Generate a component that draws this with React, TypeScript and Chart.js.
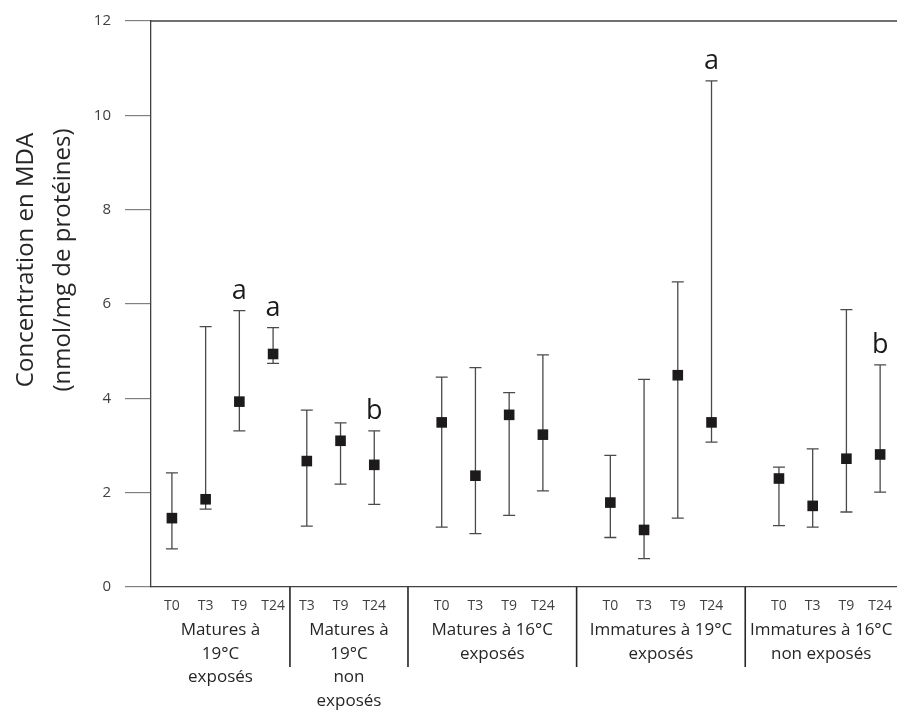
import React, { useEffect, useRef } from 'react';
import { Chart, registerables } from 'chart.js';

Chart.register(...registerables);

// 22 category slots (blank slots separate the groups)
const slotLabels = ['T0', 'T3', 'T9', 'T24', 'T3', 'T9', 'T24', '', 'T0', 'T3', 'T9', 'T24', '', 'T0', 'T3', 'T9', 'T24', '', 'T0', 'T3', 'T9', 'T24'];
const means = [1.46, 1.86, 3.93, 4.94, 2.67, 3.10, 2.59, null, 3.49, 2.36, 3.65, 3.23, null, 1.79, 1.21, 4.49, 3.49, null, 2.30, 1.72, 2.72, 2.81];
const upper = [2.42, 5.52, 5.86, 5.50, 3.75, 3.48, 3.31, null, 4.45, 4.65, 4.12, 4.92, null, 2.79, 4.40, 6.47, 10.73, null, 2.54, 2.93, 5.88, 4.71];
const lower = [0.81, 1.65, 3.31, 4.74, 1.29, 2.18, 1.75, null, 1.27, 1.13, 1.52, 2.04, null, 1.05, 0.60, 1.46, 3.07, null, 1.30, 1.27, 1.59, 2.01];
const letters = ['', '', 'a', 'a', '', '', 'b', '', '', '', '', '', '', '', '', '', 'a', '', '', '', '', 'b'];

const groupNames = [
  ['Matures à', '19°C', 'exposés'],
  ['Matures à', '19°C', 'non', 'exposés'],
  ['Matures à 16°C', 'exposés'],
  ['Immatures à 19°C', 'exposés'],
  ['Immatures à 16°C', 'non exposés'],
];
const groupStart = [0, 4, 8, 13, 18];
const groupEnd = [3, 6, 11, 16, 21];

const yMin = 0;
const yMax = 12;
const yStep = 2;
const yTitle = ['Concentration en MDA', '(nmol/mg de protéines)'];

const FONT = "'Open Sans', sans-serif";
const TEXT = '#262626';

const decorPlugin = {
  id: 'decor',
  beforeDatasetsDraw(chart: any) {
    const { ctx } = chart;
    const xs = chart.scales.x;
    const ys = chart.scales.y;
    ctx.save();
    ctx.strokeStyle = '#4a4a4a';
    ctx.lineWidth = 1.3;
    for (let i = 0; i < means.length; i++) {
      if (means[i] == null) continue;
      const x = xs.getPixelForValue(i);
      const yh = ys.getPixelForValue(upper[i] as number);
      const yl = ys.getPixelForValue(lower[i] as number);
      ctx.beginPath();
      ctx.moveTo(x, yh);
      ctx.lineTo(x, yl);
      ctx.moveTo(x - 6, yh);
      ctx.lineTo(x + 6, yh);
      ctx.moveTo(x - 6, yl);
      ctx.lineTo(x + 6, yl);
      ctx.stroke();
    }
    ctx.restore();
  },
  afterDraw(chart: any) {
    const { ctx, chartArea } = chart;
    const xs = chart.scales.x;
    const ys = chart.scales.y;
    ctx.save();
    // top border
    ctx.strokeStyle = '#404040';
    ctx.lineWidth = 1.3;
    ctx.beginPath();
    ctx.moveTo(chartArea.left, chartArea.top);
    ctx.lineTo(chartArea.right, chartArea.top);
    ctx.stroke();

    // group separators
    const seps: number[] = [];
    for (let g = 0; g < groupStart.length - 1; g++) {
      seps.push(xs.getPixelForValue((groupEnd[g] + groupStart[g + 1]) / 2));
    }
    ctx.strokeStyle = '#262626';
    ctx.lineWidth = 1.6;
    seps.forEach((sx) => {
      ctx.beginPath();
      ctx.moveTo(sx, chartArea.bottom);
      ctx.lineTo(sx, chartArea.bottom + 80);
      ctx.stroke();
    });

    // group labels
    ctx.fillStyle = TEXT;
    ctx.font = `17px ${FONT}`;
    ctx.textAlign = 'center';
    ctx.textBaseline = 'middle';
    groupNames.forEach((lines, g) => {
      const l = g === 0 ? chartArea.left : seps[g - 1];
      const r = g === groupNames.length - 1 ? chartArea.right : seps[g];
      const cx = (l + r) / 2;
      lines.forEach((t, k) => {
        ctx.fillText(t, cx, chartArea.bottom + 43 + k * 23.7);
      });
    });

    // significance letters
    ctx.fillStyle = '#1a1a1a';
    ctx.font = `27px ${FONT}`;
    ctx.textBaseline = 'alphabetic';
    letters.forEach((t, i) => {
      if (!t) return;
      ctx.fillText(t, xs.getPixelForValue(i), ys.getPixelForValue(upper[i] as number) - 12);
    });

    // y title
    ctx.fillStyle = TEXT;
    ctx.font = `24px ${FONT}`;
    ctx.textBaseline = 'middle';
    const cy = (chartArea.top + chartArea.bottom) / 2 - 44;
    yTitle.forEach((t, k) => {
      ctx.save();
      ctx.translate(chartArea.left - 125 + k * 37, cy);
      ctx.rotate(-Math.PI / 2);
      ctx.fillText(t, 0, 0);
      ctx.restore();
    });
    ctx.restore();
  },
};

export default function App() {
  const ref = useRef<HTMLCanvasElement>(null);
  useEffect(() => {
    if (!ref.current) return;
    const points = means
      .map((v, i) => (v == null ? null : { x: i, y: v }))
      .filter((p) => p !== null);
    const chart = new Chart(ref.current, {
      type: 'scatter',
      data: {
        datasets: [
          {
            data: points as any,
            pointStyle: 'rect',
            pointRadius: 7.5,
            pointHoverRadius: 7.5,
            backgroundColor: '#1c1a1a',
            borderColor: '#1c1a1a',
            borderWidth: 0,
            showLine: false,
          },
        ],
      },
      options: {
        responsive: false,
        animation: false,
        events: [],
        layout: { autoPadding: false, padding: { top: 21, left: 0, right: 0, bottom: 0 } },
        plugins: { legend: { display: false }, tooltip: { enabled: false }, title: { display: false } },
        scales: {
          x: {
            type: 'linear',
            min: -0.62,
            max: slotLabels.length - 0.5,
            afterBuildTicks: (scale: any) => {
              scale.ticks = slotLabels.map((_, i) => ({ value: i }));
            },
            afterFit: (scale: any) => {
              scale.height = 124;
              scale.paddingLeft = 0;
              scale.paddingRight = 0;
            },
            ticks: {
              autoSkip: false,
              maxRotation: 0,
              minRotation: 0,
              padding: 11,
              color: '#404040',
              font: { family: FONT, size: 14 },
              callback: (v: any) => slotLabels[Math.round(Number(v))] ?? '',
            },
            grid: { display: false, drawTicks: false },
            border: { display: true, color: '#404040', width: 1.3 },
          },
          y: {
            min: yMin,
            max: yMax,
            afterFit: (scale: any) => {
              scale.width = 151;
              scale.paddingTop = 0;
              scale.paddingBottom = 0;
            },
            ticks: {
              stepSize: yStep,
              padding: 14,
              color: '#404040',
              font: { family: FONT, size: 15 },
            },
            grid: { drawOnChartArea: false, tickLength: 26, color: '#808080', lineWidth: 1.2 },
            border: { display: true, color: '#404040', width: 1.3 },
          },
        },
      },
      plugins: [decorPlugin],
    });
    return () => chart.destroy();
  }, []);
  return (
    <div style={{ position: 'absolute', left: 0, top: 0, width: 897, height: 711, background: '#fff' }}>
      <canvas ref={ref} width={897} height={711} style={{ display: 'block' }} />
    </div>
  );
}
